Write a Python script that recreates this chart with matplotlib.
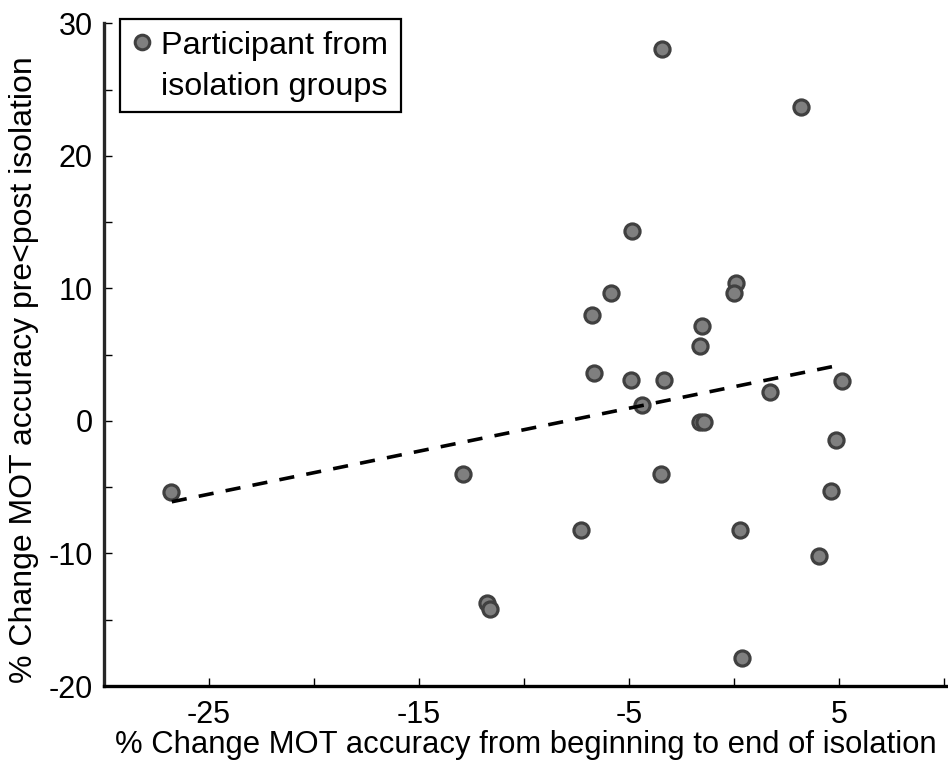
import matplotlib
matplotlib.use("Agg")
import matplotlib.pyplot as plt
from matplotlib.patches import Rectangle

plt.rcParams['font.family'] = ['Liberation Sans', 'DejaVu Sans']

# Data
x_change = [-4.84, 0.10, 0.00, -5.87, -6.78, -1.51, -1.60, -6.67, -4.92, -3.32,
            5.16, 1.73, -4.37, -1.62, -1.43, 4.86, -12.89, -3.49, 4.62, -7.29,
            0.29, 4.05, -11.76, -11.62, 0.37, -26.81, -3.44, 3.18]
y_change = [14.34, 10.43, 9.65, 9.67, 8.01, 7.13, 5.62, 3.64, 3.09, 3.09,
            2.98, 2.16, 1.23, -0.11, -0.08, -1.43, -3.97, -4.02, -5.29, -8.21,
            -8.24, -10.17, -13.77, -14.17, -17.91, -5.35, 28.03, 23.66]
fit_x = [-26.77, 5.13]
fit_y = [-6.10, 4.24]
legend_lines = ['Participant from', 'isolation groups']

x_ticks = [-25, -20, -15, -10, -5, 0, 5, 10]
x_labels = ['-25', '', '-15', '', '-5', '', '5', '']
y_ticks = [-20, -15, -10, -5, 0, 5, 10, 15, 20, 25, 30]
y_labels = ['-20', '', '-10', '', '0', '', '10', '', '20', '', '30']

W, H = 948, 766
fig = plt.figure(figsize=(W / 100, H / 100), dpi=100)
ax = fig.add_axes([104 / W, (H - 686) / H, (947 - 104) / W, (686 - 23.3) / H])

face, edge = '#7f7f7f', '#404040'
ax.scatter(x_change, y_change, s=118, facecolor=face, edgecolor=edge,
           linewidths=2.3, zorder=3)
ax.plot(fit_x, fit_y, color='black', lw=2.6, dashes=(4.2, 3.4), zorder=4)

ax.set_xlim(-30, 10.15)
ax.set_ylim(-20, 30)
ax.set_xticks(x_ticks)
ax.set_xticklabels(x_labels)
ax.set_yticks(y_ticks)
ax.set_yticklabels(y_labels)

for s in ['top', 'right']:
    ax.spines[s].set_visible(False)
ax.spines['left'].set_color('#262626')
ax.spines['left'].set_linewidth(2.4)
ax.spines['bottom'].set_color('black')
ax.spines['bottom'].set_linewidth(2.4)

ax.tick_params(axis='both', direction='in', length=5.5, width=1.0, labelsize=22,
               colors='black')
ax.tick_params(axis='x', pad=10)
ax.tick_params(axis='y', pad=8)

ax.set_xlabel('% Change MOT accuracy from beginning to end of isolation', fontsize=22.3,
              labelpad=0)
ax.set_ylabel('% Change MOT accuracy pre<post isolation', fontsize=23)
ax.yaxis.set_label_coords(-(104 - 24) / 843, (686 - 370) / (686 - 23.3))
ax.yaxis.label.set_va('center')


def fx(px):
    return px / W


def fy(py):
    return 1 - py / H


# legend box drawn in figure coordinates
fig.patches.append(Rectangle((fx(120), fy(112)), fx(401) - fx(120), fy(19) - fy(112),
                             transform=fig.transFigure, facecolor='white',
                             edgecolor='black', linewidth=1.6, zorder=5))
fig.add_artist(plt.Line2D([fx(141.7)], [fy(41.7)], transform=fig.transFigure,
                          marker='o', markersize=10.5, markerfacecolor=face,
                          markeredgecolor=edge, markeredgewidth=2.2,
                          linestyle='none', zorder=6))
fig.text(fx(161), fy(54), legend_lines[0], fontsize=23.3, va='baseline', ha='left',
         zorder=6)
fig.text(fx(161), fy(95), legend_lines[1], fontsize=23.3, va='baseline', ha='left',
         zorder=6)

fig.savefig('out.png', dpi=100, facecolor='white')
